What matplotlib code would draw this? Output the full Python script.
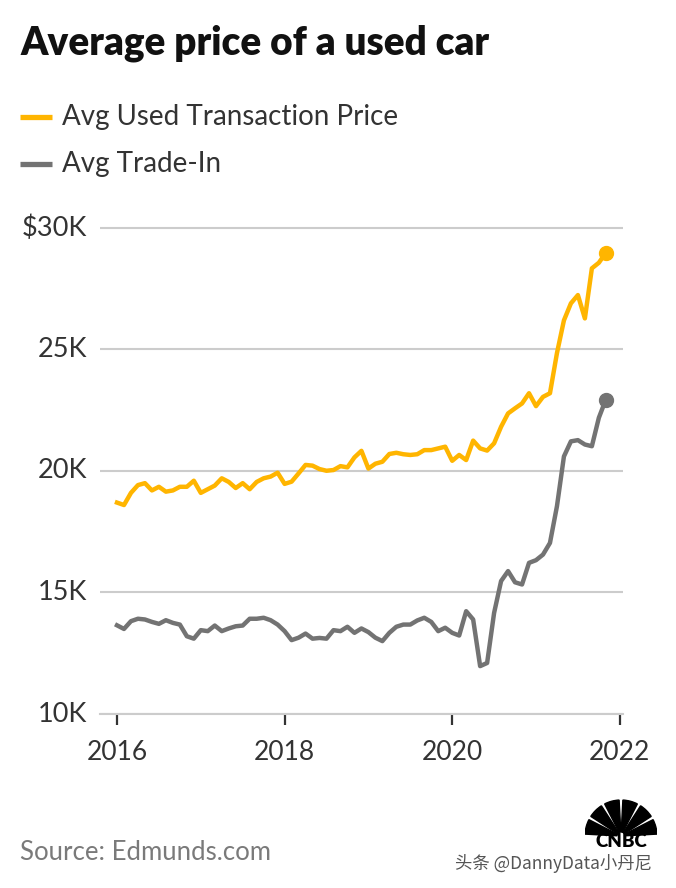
import matplotlib
matplotlib.use("Agg")
import matplotlib.pyplot as plt
from matplotlib.patches import Wedge
import numpy as np

plt.rcParams['font.family'] = ['Lato', 'DejaVu Sans']

# monthly values, Jan 2016 .. Nov 2021, in $K
used_price = [18.70, 18.60, 19.10, 19.42, 19.50, 19.20, 19.35, 19.15, 19.20, 19.35,
              19.35, 19.60, 19.10, 19.25, 19.40, 19.70, 19.55, 19.30, 19.50, 19.25,
              19.55, 19.70, 19.77, 19.93, 19.47, 19.56, 19.90, 20.25, 20.22, 20.08,
              20.01, 20.04, 20.20, 20.15, 20.56, 20.83, 20.10, 20.30, 20.38, 20.70,
              20.75, 20.69, 20.66, 20.69, 20.86, 20.86, 20.93, 21.00, 20.42, 20.66,
              20.45, 21.25, 20.93, 20.84, 21.14, 21.82, 22.37, 22.58, 22.78, 23.20,
              22.67, 23.05, 23.20, 24.85, 26.20, 26.90, 27.24, 26.28, 28.34, 28.57,
              28.98]
trade_in = [13.65, 13.50, 13.82, 13.92, 13.89, 13.79, 13.71, 13.86, 13.75, 13.68,
            13.20, 13.10, 13.45, 13.41, 13.64, 13.41, 13.52, 13.61, 13.64, 13.92,
            13.92, 13.96, 13.86, 13.68, 13.41, 13.04, 13.14, 13.31, 13.10, 13.13,
            13.10, 13.45, 13.41, 13.59, 13.34, 13.52, 13.37, 13.14, 13.00, 13.34,
            13.59, 13.68, 13.68, 13.85, 13.96, 13.79, 13.41, 13.55, 13.34, 13.23,
            14.23, 13.89, 11.97, 12.10, 14.16, 15.47, 15.88, 15.42, 15.33, 16.22,
            16.33, 16.56, 17.04, 18.55, 20.60, 21.22, 21.27, 21.09, 21.02, 22.19,
            22.94]
months = 2016 + np.arange(len(used_price)) / 12.0

year_ticks = [2016, 2018, 2020, 2022]
y_ticks = [10, 15, 20, 25, 30]
y_labels = ['10K', '15K', '20K', '25K', '$30K']

YELLOW = '#FFB500'
GRAY = '#737373'
TXT = '#333333'

fig = plt.figure(figsize=(6.76, 8.88), dpi=100)
ax = fig.add_axes([100 / 676, 1 - 714 / 888, 523 / 676, (714 - 223.14) / 888])

ax.plot(months, used_price, color=YELLOW, lw=3.2, solid_joinstyle='round', zorder=3)
ax.plot(months, trade_in, color=GRAY, lw=3.2, solid_joinstyle='round', zorder=3)
ax.plot(months[-1], used_price[-1], 'o', color=YELLOW, ms=10, zorder=4)
ax.plot(months[-1], trade_in[-1], 'o', color=GRAY, ms=10, zorder=4)

ax.set_xlim(2016 - 17 / 83.8, 2016 + 506 / 83.8)
ax.set_ylim(10, 30.2)
ax.set_yticks(y_ticks)
ax.set_yticklabels(y_labels)
ax.set_xticks(year_ticks)
ax.grid(axis='y', color='#cccccc', lw=1.5)
ax.set_axisbelow(True)
for s in ['top', 'right', 'left']:
    ax.spines[s].set_visible(False)
ax.spines['bottom'].set_color('#cccccc')
ax.spines['bottom'].set_linewidth(1.5)
ax.tick_params(axis='y', length=0, pad=9, labelsize=19.5, labelcolor=TXT)
ax.tick_params(axis='x', length=8, width=1.6, color=TXT, pad=11,
               labelsize=19, labelcolor=TXT)
for lbl in ax.get_yticklabels():
    lbl.set_verticalalignment('center')

# title and legend
fig.text(20 / 676, 1 - 43 / 888, 'Average price of a used car', fontsize=27.8,
         fontweight='heavy', color='#111111', va='center', ha='left')
fig.add_artist(plt.Line2D([20 / 676, 52 / 676], [1 - 117 / 888] * 2, color=YELLOW,
                          lw=3.8, solid_capstyle='butt'))
fig.add_artist(plt.Line2D([20 / 676, 52 / 676], [1 - 164 / 888] * 2, color=GRAY,
                          lw=3.8, solid_capstyle='butt'))
fig.text(62 / 676, 1 - 117 / 888, 'Avg Used Transaction Price', fontsize=20,
         color=TXT, va='center', ha='left')
fig.text(62 / 676, 1 - 164 / 888, 'Avg Trade-In', fontsize=20,
         color=TXT, va='center', ha='left')

fig.text(20 / 676, 1 - 852 / 888, 'Source: Edmunds.com', fontsize=18.5,
         color='#7a7a7a', va='center', ha='left')

# peacock-ish logo
lax = fig.add_axes([585 / 676, 1 - 862 / 888, 72 / 676, 66 / 888])
lax.set_xlim(-36, 36)
lax.set_ylim(-20, 46)
lax.set_aspect('equal')
lax.axis('off')
for k in range(6):
    a0 = 180 - k * 30
    lax.add_patch(Wedge((0, 6), 36, a0 - 27, a0 - 3, width=32, color='black'))
lax.text(0, 1, 'CNBC', fontsize=13.5, fontweight='heavy', color='black',
         ha='center', va='center')

fig.text(455 / 676, 1 - 863 / 888, '头条 @DannyData小丹尼', fontsize=12.5,
         color='#555555', va='center', ha='left',
         family=['Noto Sans CJK SC', 'DejaVu Sans'])

fig.savefig('out.png', dpi=100, facecolor='white')
